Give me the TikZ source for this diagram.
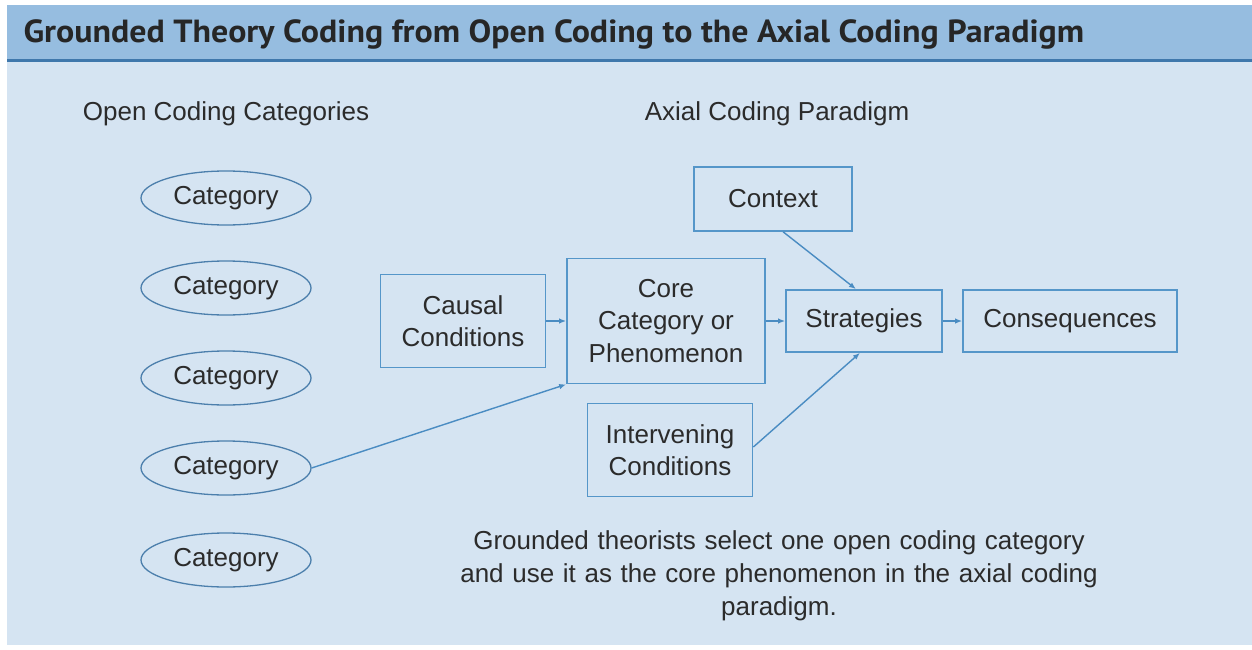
\documentclass[tikz,border=0pt]{standalone}
\usepackage{fontspec}
\setmainfont{Liberation Sans}
\newfontfamily\headfont[FakeStretch=1.06]{PT Sans}
\usetikzlibrary{shapes.geometric,arrows.meta}

\definecolor{bodyblue}{HTML}{D5E4F2}
\definecolor{barblue}{HTML}{96BDE0}
\definecolor{ruleblue}{HTML}{3F78AC}
\definecolor{boxblue}{HTML}{5596C9}
\definecolor{ellblue}{HTML}{4C7FAC}
\definecolor{arrowblue}{HTML}{4A8CC2}
\definecolor{inkgray}{HTML}{2B2B2B}

\begin{document}
\begin{tikzpicture}[x=1pt,y=-1pt,
  every node/.style={text=inkgray, font=\fontsize{26}{32.5}\selectfont},
  pbox/.style={draw=boxblue, line width=1.7pt, fill=bodyblue, align=center, inner sep=0pt},
  cat/.style={ellipse, draw=ellblue, line width=1.3pt, fill=bodyblue, minimum width=170pt, minimum height=54pt, inner sep=0pt},
  flow/.style={draw=arrowblue, line width=1.4pt, -{Latex[length=7pt,width=5.5pt]}}]
\useasboundingbox (0,0) rectangle (1252,650);
\fill[white] (0,0) rectangle (1252,650);
\fill[bodyblue] (7,5) rectangle (1252,645);
\fill[barblue] (7,5) rectangle (1252,59);
\fill[ruleblue] (7,59) rectangle (1252,62);
\node[anchor=west, text=black!85, font=\headfont\bfseries\fontsize{32}{36}\selectfont] (title) at (20,34)
{Grounded Theory Coding from Open Coding to the Axial Coding Paradigm};

% open coding side
\node (opencap) at (226,114) {Open Coding Categories};
\node[cat] (c1) at (226,198) {Category};
\node[cat] (c2) at (226,288) {Category};
\node[cat] (c3) at (226,378) {Category};
\node[cat] (c4) at (226,468) {Category};
\node[cat] (c5) at (226,560) {Category};

% axial paradigm
\node (axialcap) at (777,114) {Axial Coding Paradigm};
\node[pbox, minimum width=158pt, minimum height=64pt] (context) at (773,199) {Context};
\node[pbox, minimum width=165pt, minimum height=93pt] (causal) at (463,321) {Causal\\Conditions};
\node[pbox, minimum width=198pt, minimum height=125pt] (core) at (666,321) {Core\\Category or\\Phenomenon};
\node[pbox, minimum width=156pt, minimum height=62pt] (strat) at (864,321) {Strategies};
\node[pbox, minimum width=214pt, minimum height=62pt] (conseq) at (1070,321) {Consequences};
\node[pbox, minimum width=165pt, minimum height=93pt] (interv) at (670,450) {Intervening\\Conditions};

\node[align=center, text width=680pt, font=\fontsize{26}{33}\selectfont] (note) at (779,576)
{Grounded theorists select one open coding category\\and use it as the core phenomenon in the axial coding\\paradigm.};

\draw[flow] (causal) -- (core);
\draw[flow] (core) -- (strat);
\draw[flow] (strat) -- (conseq);
\draw[flow] (context.south west) ++(90,0) coordinate (ctx) -- ([xshift=-8pt]strat.north);
\draw[flow] (interv.east) ++(0,-3) coordinate (itv) -- ([xshift=-4pt]strat.south);
\draw[flow] (c4.east) -- (core.south west);
\end{tikzpicture}
\end{document}
